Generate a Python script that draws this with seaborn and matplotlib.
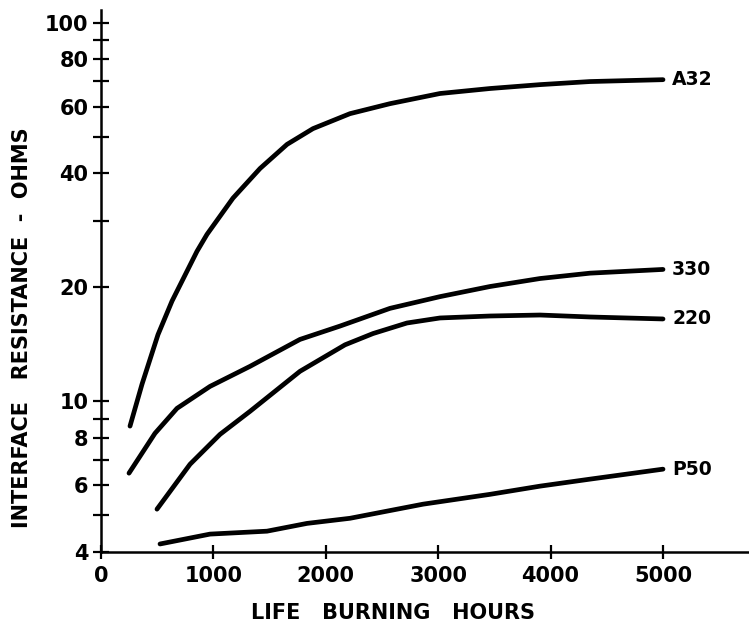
import matplotlib
matplotlib.use("Agg")
import matplotlib.pyplot as plt
import numpy as np
import pandas as pd
import seaborn as sns
from matplotlib.ticker import FixedLocator, NullFormatter, FixedFormatter

# ---- data ----
hours_a32 = [258, 365, 507, 632, 854, 943, 1174, 1415, 1655, 1886, 2215, 2571, 3016, 3461, 3906, 4351, 5000]
ohms_a32 = [8.6, 11.1, 15.0, 18.4, 24.9, 27.6, 34.4, 41.2, 47.7, 52.5, 57.5, 61.1, 65.0, 67.0, 68.6, 69.9, 70.7]

hours_330 = [249, 480, 676, 970, 1326, 1770, 2126, 2571, 3016, 3461, 3906, 4351, 5000]
ohms_330 = [6.46, 8.23, 9.58, 10.95, 12.37, 14.57, 15.8, 17.6, 18.9, 20.1, 21.1, 21.8, 22.3]

hours_220 = [498, 792, 1059, 1326, 1770, 2171, 2420, 2722, 3016, 3461, 3906, 4351, 5000]
ohms_220 = [5.19, 6.82, 8.18, 9.41, 12.0, 14.1, 15.1, 16.1, 16.6, 16.8, 16.9, 16.7, 16.5]

hours_p50 = [525, 970, 1477, 1833, 2215, 2865, 3461, 3906, 4351, 5000]
ohms_p50 = [4.20, 4.46, 4.54, 4.76, 4.91, 5.35, 5.68, 5.97, 6.23, 6.62]

series_names = ["A32", "330", "220", "P50"]

x_ticks = [0, 1000, 2000, 3000, 4000, 5000]
y_major = [4, 6, 8, 10, 20, 40, 60, 80, 100]
y_minor = [5, 7, 9, 30, 50, 70, 90]

# ---- build long-form table ----
frames = []
for name, hx, oy in zip(series_names,
                        [hours_a32, hours_330, hours_220, hours_p50],
                        [ohms_a32, ohms_330, ohms_220, ohms_p50]):
    frames.append(pd.DataFrame({"hours": hx, "ohms": oy, "series": name}))
df = pd.concat(frames, ignore_index=True)

sns.set_style("ticks")
plt.rcParams["font.family"] = ["DejaVu Sans"]
plt.rcParams["text.color"] = "black"
plt.rcParams["axes.labelcolor"] = "black"
plt.rcParams["xtick.color"] = "black"
plt.rcParams["ytick.color"] = "black"

fig = plt.figure(figsize=(7.49, 6.26), dpi=100)
ax = fig.add_axes([101 / 749, 1 - 552 / 626, 1 - 101 / 749, (552 - 10) / 626])
ax.set_yscale("log")

sns.lineplot(data=df, x="hours", y="ohms", hue="series", units="series",
             estimator=None, sort=False,
             palette={n: "black" for n in series_names},
             linewidth=3.4, legend=False, ax=ax,
             solid_capstyle="round", solid_joinstyle="round")

# series labels at line ends
for name, hx, oy in zip(series_names,
                        [hours_a32, hours_330, hours_220, hours_p50],
                        [ohms_a32, ohms_330, ohms_220, ohms_p50]):
    ax.text(hx[-1] + 80, oy[-1], name, ha="left", va="center",
            fontsize=13.5, fontweight="bold", color="black")

ax.set_xlim(0, 5765)
ax.set_ylim(4, 108)

ax.xaxis.set_major_locator(FixedLocator(x_ticks))
ax.xaxis.set_major_formatter(FixedFormatter([str(v) for v in x_ticks]))
ax.yaxis.set_major_locator(FixedLocator(y_major))
ax.yaxis.set_major_formatter(FixedFormatter([str(v) for v in y_major]))
ax.yaxis.set_minor_locator(FixedLocator(y_minor))
ax.yaxis.set_minor_formatter(NullFormatter())
ax.xaxis.set_minor_locator(FixedLocator([]))

ax.tick_params(axis="y", which="both", direction="inout", length=12, width=1.6,
               pad=3, labelsize=15, color="black", labelcolor="black")
ax.tick_params(axis="x", which="major", direction="inout", length=10, width=1.6,
               pad=5, labelsize=15, color="black", labelcolor="black")
for lab in ax.get_xticklabels() + ax.get_yticklabels():
    lab.set_fontweight("bold")

sns.despine(ax=ax, top=True, right=True)
for s in ["left", "bottom"]:
    ax.spines[s].set_linewidth(1.8)
    ax.spines[s].set_color("black")

ax.set_xlabel("LIFE   BURNING   HOURS", fontsize=15, fontweight="bold")
ax.set_ylabel("INTERFACE   RESISTANCE  -  OHMS", fontsize=15, fontweight="bold")
ax.xaxis.set_label_coords(0.45, -0.094)
ax.yaxis.set_label_coords(-0.107, 0.413)

fig.savefig("out.png", dpi=100, facecolor="white")
